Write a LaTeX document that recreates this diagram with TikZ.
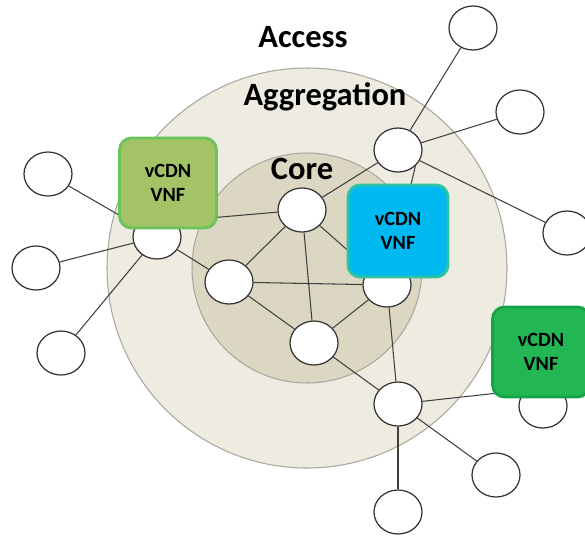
\documentclass[tikz,border=0pt]{standalone}
\usepackage{fontspec}
\setmainfont{Carlito}
\usetikzlibrary{shapes.geometric}
\definecolor{aggfill}{HTML}{EEEBE1}
\definecolor{corefill}{HTML}{DCD7C3}
\definecolor{ringline}{HTML}{A9A79E}
\definecolor{oliveA}{HTML}{A3C366}
\definecolor{oliveB}{HTML}{6BC35B}
\definecolor{cyanA}{HTML}{00B9F1}
\definecolor{cyanB}{HTML}{2FC39F}
\definecolor{greenA}{HTML}{22B655}
\definecolor{greenB}{HTML}{14A445}
\begin{document}
\begin{tikzpicture}
[site/.style={ellipse, draw=black!80, line width=.7pt, fill=white, minimum width=.96cm, minimum height=.88cm, inner sep=0pt},
 vnf/.style={rounded corners=.24cm, line width=1.6pt, minimum width=1.94cm, minimum height=1.8cm, align=center, font=\fontsize{11.5}{13.6}\selectfont\bfseries},
 layer/.style={font=\fontsize{18.5}{22}\selectfont\bfseries},
 semithick]
\useasboundingbox (0,0) rectangle (11.7,-10.76);

% rings
\fill[aggfill, draw=ringline, line width=.6pt] (6.14,-5.36) circle (4.0);
\fill[corefill, draw=ringline, line width=.6pt] (6.14,-5.36) circle (2.3);

\node[site] (A) at (9.46,-.56) {};
\node[site] (B) at (10.40,-2.24) {};
\node[site] (C) at (7.96,-3.00) {};
\node[site] (D) at (11.34,-4.66) {};
\node[site] (E) at (.96,-3.48) {};
\node[site] (F) at (.72,-5.36) {};
\node[site] (G) at (1.22,-7.06) {};
\node[site] (H) at (3.14,-4.74) {};
\node[site] (I) at (6.04,-4.20) {};
\node[site] (J) at (4.58,-5.64) {};
\node[site] (K) at (7.74,-5.70) {};
\node[site] (L) at (6.28,-6.86) {};
\node[site] (M) at (7.96,-8.08) {};
\node[site] (N) at (10.86,-8.12) {};
\node[site] (O) at (9.92,-9.50) {};
\node[site] (P) at (7.96,-10.24) {};

\draw[black!75] (A) -- (C) -- (B);
\draw[black!75] (C) -- (D);
\draw[black!75] (C) -- (I);
\draw[black!75] (C.south east) -- (K);
\draw[black!75] (E) -- (H) -- (F);
\draw[black!75] (G) -- (H) -- (J);
\draw[black!75] (H.north east) -- (I);
\draw[black!75] (I) -- (J) -- (K) -- (I) -- (L) -- (J);
\draw[black!75] (K) -- (L) -- (M) -- (K);
\draw[black!75] (M) -- (N.north west);
\draw[black!75] (M) -- (O);
\draw[black!75] (M) -- (P);

% vCDN boxes
\node[vnf, fill=oliveA, draw=oliveB] (VA) at (3.36,-3.66) {vCDN\\VNF};
\node[vnf, fill=cyanA, draw=cyanB, minimum width=2cm, minimum height=1.84cm] (VB) at (7.96,-4.62) {vCDN\\VNF};
\node[vnf, fill=greenA, draw=greenB] (VC) at (10.82,-7.04) {vCDN\\VNF};

\node[layer] (ACC) at (6.06,-.74) {Access};
\node[layer] (AGG) at (6.50,-1.94) {Aggregation};
\node[layer] (CORE) at (6.04,-3.38) {Core};
\end{tikzpicture}
\end{document}
